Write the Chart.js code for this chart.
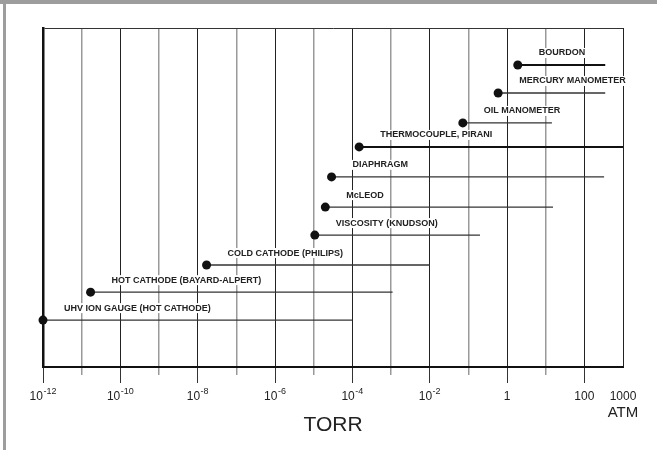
<!DOCTYPE html>
<html>
<head>
<meta charset="utf-8">
<script src="https://cdn.jsdelivr.net/npm/chart.js@4/dist/chart.umd.min.js"></script>
<style>
  html, body { margin: 0; padding: 0; background: #fff; }
  #wrap { position: relative; width: 657px; height: 450px; }
  .edge { position: absolute; background: #9d9d9d; }
  #top { left: 0; top: 0; width: 657px; height: 4px; }
  #left { left: 3px; top: 0; width: 3px; height: 450px; }
</style>
</head>
<body>
<div id="wrap">
  <canvas id="grafico" width="657" height="450"></canvas>
  <div class="edge" id="top"></div>
  <div class="edge" id="left"></div>
</div>
<script>
// gauges, top row first
const gauges = [
  "BOURDON",
  "MERCURY MANOMETER",
  "OIL MANOMETER",
  "THERMOCOUPLE, PIRANI",
  "DIAPHRAGM",
  "McLEOD",
  "VISCOSITY (KNUDSON)",
  "COLD CATHODE (PHILIPS)",
  "HOT CATHODE (BAYARD-ALPERT)",
  "UHV ION GAUGE (HOT CATHODE)"
];
// working range in torr
const lowTorr  = [1.9, 0.59, 0.072, 1.5e-4, 2.9e-5, 2.0e-5, 1.07e-5, 1.7e-8, 1.7e-11, 1e-12];
const highTorr = [347, 347, 14.5, 1000, 324, 15.5, 0.2, 1e-2, 1.1e-3, 1e-4];
// row height of each gauge line (0 = axis, 12 = top)
const rowLevel = [10.69, 9.70, 8.64, 7.79, 6.73, 5.66, 4.67, 3.61, 2.65, 1.66];

// labelled decades (exponent of 10) and their tick text
const majorDecades = [-12, -10, -8, -6, -4, -2, 0, 2, 3];
const tickBase = ["10", "10", "10", "10", "10", "10", "1", "100", "1000"];
const tickExp  = ["-12", "-10", "-8", "-6", "-4", "-2", "", "", ""];
// unlabelled decades
const minorDecades = [-11, -9, -7, -5, -3, -1, 1];
const atmLabel = "ATM";
const axisTitle = "TORR";

const thick = ["BOURDON", "THERMOCOUPLE, PIRANI"];
const fonte = '"Liberation Sans", Arial, sans-serif';

const datasets = gauges.map((nome, i) => ({
  label: nome,
  data: [{ x: lowTorr[i], y: rowLevel[i] }, { x: highTorr[i], y: rowLevel[i] }],
  showLine: true,
  borderColor: thick.includes(nome) ? "#111" : "#333",
  borderWidth: thick.includes(nome) ? 2 : 1.3,
  pointRadius: (c) => c.dataIndex === 0 ? 4.5 : 0,
  pointHoverRadius: (c) => c.dataIndex === 0 ? 4.5 : 0,
  pointBackgroundColor: "#111",
  pointBorderWidth: 0,
  clip: false
}));

const rotulos = {
  id: "rotulos",
  afterDraw(chart) {
    const { ctx, scales: { x, y } } = chart;
    ctx.save();
    // gauge names, on a white patch like the original
    ctx.font = "bold 9px " + fonte;
    ctx.textBaseline = "middle";
    ctx.textAlign = "left";
    gauges.forEach((nome, i) => {
      const px = x.getPixelForValue(lowTorr[i]) + 21;
      const py = y.getPixelForValue(rowLevel[i]) - 12;
      const w = ctx.measureText(nome).width;
      ctx.fillStyle = "#fff";
      ctx.fillRect(px - 1, py - 5, w + 2, 10);
      ctx.fillStyle = "#222";
      ctx.fillText(nome, px, py);
    });

    // tick labels with superscript exponents
    ctx.fillStyle = "#222";
    const ly = x.top + 30;
    majorDecades.forEach((e, i) => {
      const cx = x.getPixelForValue(Math.pow(10, e));
      ctx.font = "12px " + fonte;
      const wb = ctx.measureText(tickBase[i]).width;
      ctx.font = "9px " + fonte;
      const we = tickExp[i] ? ctx.measureText(tickExp[i]).width + 0.5 : 0;
      const x0 = cx - (wb + we) / 2;
      ctx.font = "12px " + fonte;
      ctx.fillText(tickBase[i], x0, ly);
      if (tickExp[i]) {
        ctx.font = "9px " + fonte;
        ctx.fillText(tickExp[i], x0 + wb + 0.5, ly - 5);
      }
    });

    ctx.font = "15px " + fonte;
    ctx.textAlign = "center";
    ctx.fillText(atmLabel, x.getPixelForValue(1000), x.top + 46);
    ctx.restore();
  }
};

new Chart(document.getElementById("grafico"), {
  type: "scatter",
  data: { datasets: datasets },
  options: {
    responsive: false,
    animation: false,
    events: [],
    layout: { padding: { left: 43, right: 34, top: 28, bottom: 0 } },
    plugins: { legend: { display: false }, tooltip: { enabled: false } },
    scales: {
      x: {
        type: "logarithmic",
        position: "bottom",
        weight: 1,
        min: 1e-12,
        max: 1e3,
        afterBuildTicks: (s) => { s.ticks = majorDecades.map(e => ({ value: Math.pow(10, e) })); },
        afterFit: (s) => { s.height = 83; },
        border: { color: "#111", width: 2 },
        grid: {
          color: "#222",
          lineWidth: 1,
          tickLength: 16,
          tickColor: (c) => c.index === majorDecades.length - 1 ? "rgba(0,0,0,0)" : "#333"
        },
        ticks: { display: false },
        title: {
          display: true,
          text: axisTitle,
          color: "#222",
          font: { family: fonte, size: 21 },
          padding: { top: 0, bottom: 12 }
        }
      },
      x2: {
        type: "logarithmic",
        position: "bottom",
        weight: 0,
        min: 1e-12,
        max: 1e3,
        afterBuildTicks: (s) => { s.ticks = minorDecades.map(e => ({ value: Math.pow(10, e) })); },
        afterFit: (s) => { s.height = 0; },
        border: { display: false },
        grid: { color: "#999", lineWidth: 1.5, tickLength: 8 },
        ticks: { display: false }
      },
      y: {
        min: 0,
        max: 12,
        afterBuildTicks: (s) => { s.ticks = [{ value: 12 }]; },
        afterFit: (s) => { s.width = 0; },
        border: { color: "#111", width: 2.5 },
        grid: { color: "#333", lineWidth: 1, drawTicks: false },
        ticks: { display: false }
      }
    }
  },
  plugins: [rotulos]
});
</script>
</body>
</html>
